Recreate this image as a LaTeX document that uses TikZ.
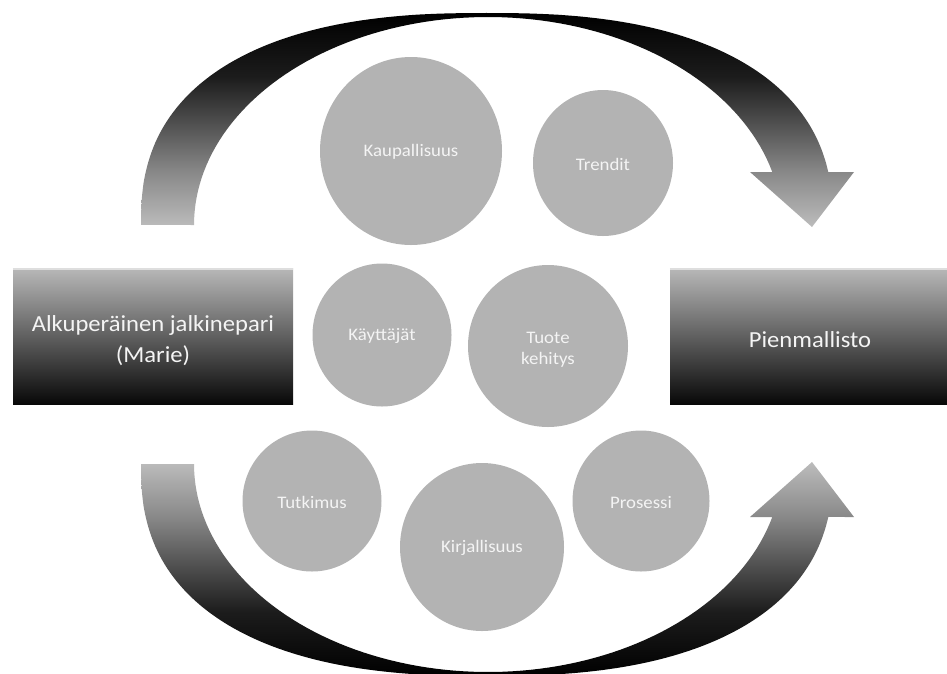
\documentclass[tikz,border=0pt]{standalone}
\usepackage{fontspec}
\setmainfont{Carlito}[FakeStretch=1.07]
\usetikzlibrary{shapes.geometric}
\definecolor{bubble}{HTML}{B3B3B3}
\definecolor{txt}{HTML}{F4F4F4}
\definecolor{boxtop}{HTML}{B8B8B8}
\definecolor{boxmid}{HTML}{6E6E6E}
\definecolor{boxbot}{HTML}{080808}
\definecolor{hilite}{HTML}{DEDEDE}
\definecolor{arA}{HTML}{1C1C1C}
\definecolor{arB}{HTML}{4C4C4C}
\definecolor{arC}{HTML}{8A8A8A}
\definecolor{arD}{HTML}{BCBCBC}
\pgfdeclareverticalshading{arrtop}{100bp}{color(0bp)=(arD); color(25bp)=(arD); color(37.5bp)=(arC); color(50bp)=(arB); color(60bp)=(arA); color(75bp)=(black); color(100bp)=(black)}
\pgfdeclareverticalshading{arrbot}{100bp}{color(0bp)=(black); color(25bp)=(black); color(40bp)=(arA); color(50bp)=(arB); color(62.5bp)=(arC); color(75bp)=(arD); color(100bp)=(arD)}
% #1 = axis y, #2 = sign (1 up / -1 down), #3 = shading options
\newcommand\bigarrow[3]{%
  \path[#3]
    plot[domain=180:90,samples=70] ({487-346*pow(max(-cos(\x),0.0001),0.816)},{#1-(#2)*212*pow(max(sin(\x),0.0001),0.816)})
    -- plot[domain=90:10.5,samples=70] ({487+346*pow(max(cos(\x),0.0001),0.816)},{#1-(#2)*212*pow(max(sin(\x),0.0001),0.816)})
    -- (854,{#1-(#2)*53}) -- (812,{#1+(#2)*2}) -- (750,{#1-(#2)*53})
    -- plot[domain=14.76:180,samples=90] ({488+294*cos(\x)},{#1-(#2)*208*sin(\x)})
    -- cycle;}
\tikzset{
  box/.style={rectangle, minimum width=280pt, minimum height=136pt, inner sep=0pt,
    top color=boxtop, middle color=boxmid, bottom color=boxbot},
  boxtext/.style={text=txt, align=center, inner sep=0pt, font=\fontsize{23}{31}\selectfont},
  bub/.style={ellipse, fill=bubble, inner sep=0pt},
  bubtext/.style={text=txt, align=center, inner sep=0pt, font=\fontsize{17.6}{21}\selectfont}
}
\begin{document}
\begin{tikzpicture}[x=1pt,y=-1pt]
\useasboundingbox (0,0) rectangle (947,673);
\clip (0,0) rectangle (947,673);
% big curved arrows
\bigarrow{225}{1}{shade, shading=arrtop}
\bigarrow{464}{-1}{shade, shading=arrbot}
% boxes
\node[box] (orig) at (153,336) {};
\node[box] (coll) at (810,336) {};
\draw[hilite, line width=1.5pt] ([yshift=-1pt]orig.north west) -- ([yshift=-1pt]orig.north east);
\draw[hilite, line width=1.5pt] ([yshift=-1pt]coll.north west) -- ([yshift=-1pt]coll.north east);
\node[boxtext] (origt) at ([yshift=-5pt]orig.center) {Alkuperäinen jalkinepari\\(Marie)};
\node[boxtext] (collt) at ([yshift=-4pt]coll.center) {Pienmallisto};
% bubbles
\node[bub, minimum width=182pt, minimum height=188pt] (kaup) at (411,151) {};
\node[bub, minimum width=140pt, minimum height=146pt] (trend) at (603,163) {};
\node[bub, minimum width=139pt, minimum height=143pt] (kayt) at (382,335) {};
\node[bub, minimum width=160pt, minimum height=162pt] (tuote) at (548,346) {};
\node[bub, minimum width=139pt, minimum height=141pt] (tutk) at (312,501) {};
\node[bub, minimum width=164pt, minimum height=168pt] (kirj) at (482,547) {};
\node[bub, minimum width=137pt, minimum height=141pt] (pros) at (641,501) {};
\node[bubtext] (kaupt) at ([yshift=-1pt]kaup.center) {Kaupallisuus};
\node[bubtext] (trendt) at ([yshift=-1pt]trend.center) {Trendit};
\node[bubtext] (kaytt) at ([yshift=-1pt]kayt.center) {Käyttäjät};
\node[bubtext] (tuotet) at ([yshift=-4pt]tuote.center) {Tuote\\kehitys};
\node[bubtext] (tutkt) at ([yshift=-1pt]tutk.center) {Tutkimus};
\node[bubtext] (kirjt) at ([yshift=-1pt]kirj.center) {Kirjallisuus};
\node[bubtext] (prost) at ([yshift=-1pt]pros.center) {Prosessi};
\end{tikzpicture}
\end{document}
